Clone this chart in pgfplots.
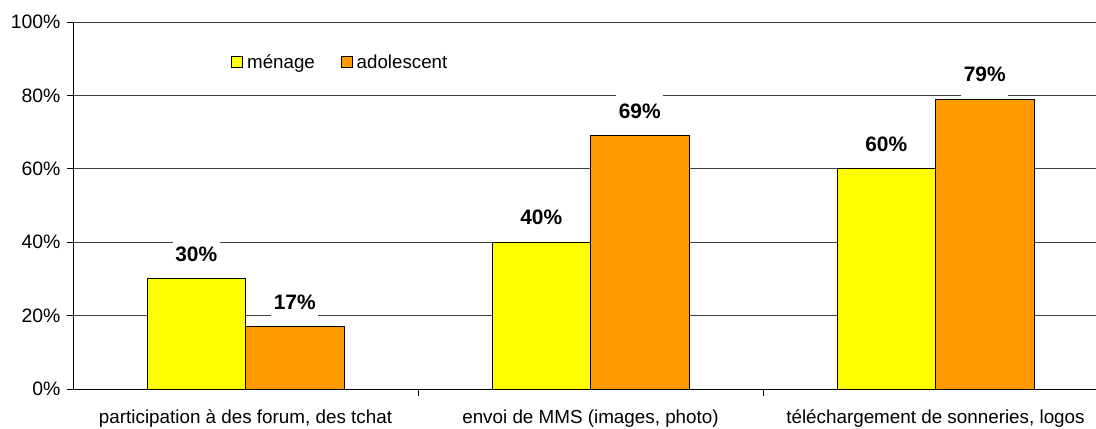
\documentclass[border=0pt]{standalone}
\usepackage{fontspec}
\setmainfont{Liberation Sans}
\usepackage{pgfplots}
\pgfplotsset{compat=1.18}
\definecolor{cyel}{HTML}{FFFF00}
\definecolor{corg}{HTML}{FF9900}
\begin{document}
\begin{tikzpicture}
\useasboundingbox (0,0) rectangle (1096bp,429bp);
\clip (0,0) rectangle (1096bp,429bp);
\begin{axis}[
  at={(73bp,40bp)}, anchor=south west,
  scale only axis, width=1035bp, height=367bp,
  xmin=-0.5, xmax=2.5, ymin=0, ymax=100,
  ybar=0pt, bar width=98.5bp,
  axis x line*=bottom, axis y line*=left,
  axis line style={black, line width=0.8bp},
  ymajorgrids, grid style={black!75, line width=0.7bp},
  ytick={0,20,40,60,80,100},
  yticklabels={0\%,20\%,40\%,60\%,80\%,100\%},
  xtick={0,1,2},
  xticklabels={{participation à des forum, des tchat}, {envoi de MMS (images, photo)}, {téléchargement de sonneries, logos}},
  x tick label style={font=\fontsize{18.9}{20}\selectfont, yshift=-11bp},
  y tick label style={font=\fontsize{19.5}{20}\selectfont, xshift=-3bp},
  tick style={black, line width=0.8bp},
  major tick length=6bp, tick align=outside,
  xtick style={draw=none},
  extra x ticks={0.5,1.5}, extra x tick labels={},
  extra x tick style={major tick length=7bp, xtick style={draw=black}},
  nodes near coords={\pgfmathprintnumber[assume math mode=true]{\pgfplotspointmeta}\%},
  every node near coord/.append style={font=\bfseries\fontsize{21}{22}\selectfont, fill=white, anchor=south, yshift=3bp, minimum height=42bp, minimum width=47bp, inner sep=0pt},
  legend columns=2,
  legend style={draw=none, fill=none, at={(0.150,0.891)}, anchor=west, font=\fontsize{18.8}{20}\selectfont,
    nodes={inner xsep=4bp}, column sep=0bp,
    /tikz/every even column/.append style={column sep=22bp}},
  legend image code/.code={\draw[#1, draw=black, line width=0.8bp] (0bp,-5.5bp) rectangle (11bp,5.5bp);},
]
\addplot[fill=cyel, draw=black, line width=0.9bp] coordinates {(0,30) (1,40) (2,60)};
\addplot[fill=corg, draw=black, line width=0.9bp] coordinates {(0,17) (1,69) (2,79)};
\legend{ménage, adolescent}
\end{axis}
\end{tikzpicture}
\end{document}
